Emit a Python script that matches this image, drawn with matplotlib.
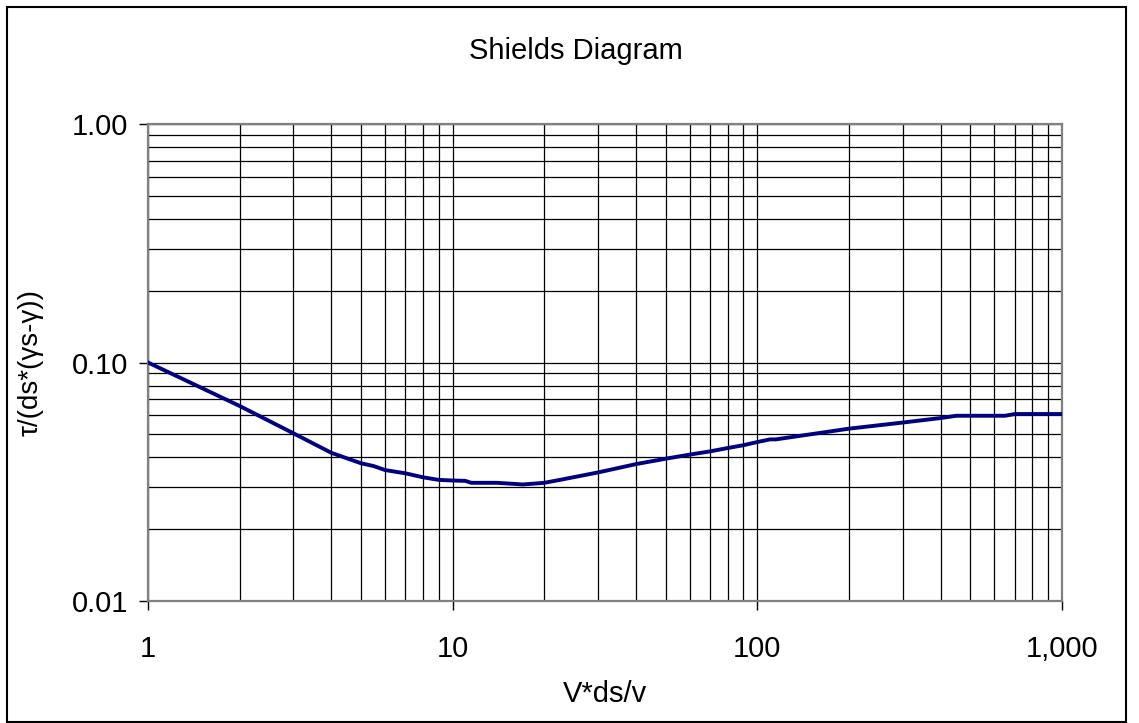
import matplotlib
matplotlib.use("Agg")
import matplotlib.pyplot as plt
from matplotlib.patches import Rectangle
from matplotlib.ticker import FixedLocator, FuncFormatter, LogLocator, NullFormatter

plt.rcParams["font.family"] = ["Liberation Sans", "DejaVu Sans"]

# ── data ──────────────────────────────────────────────────────────────────
reynolds = [1, 2, 3, 4, 5, 5.5, 6, 7, 8, 9, 10, 11, 11.5, 14, 17, 20, 22.5,
            30, 40, 50, 60, 70, 80, 90, 100, 110, 115, 200, 300, 400, 450,
            650, 700, 1000]
shields = [0.100, 0.0657, 0.0505, 0.0418, 0.0378, 0.0368, 0.0354, 0.0343,
           0.0330, 0.0322, 0.0320, 0.0319, 0.0313, 0.0313, 0.0308, 0.0313,
           0.0322, 0.0346, 0.0375, 0.0395, 0.0411, 0.0424, 0.0438, 0.0450,
           0.0464, 0.0476, 0.0476, 0.0528, 0.0560, 0.0585, 0.0598, 0.0598,
           0.0608, 0.0608]
x_major = [1, 10, 100, 1000]
y_major = [0.01, 0.1, 1.0]

# ── figure ────────────────────────────────────────────────────────────────
W, H = 1139, 723
fig = plt.figure(figsize=(W / 100, H / 100), dpi=100)
ax = fig.add_axes([148 / W, 1 - 601 / H, (1062 - 148) / W, (601 - 124) / H])

ax.plot(reynolds, shields, color="#000080", linewidth=2.8, zorder=5,
        solid_joinstyle="round")

ax.set_xscale("log")
ax.set_yscale("log")
ax.set_xlim(1, 1000)
ax.set_ylim(0.01, 1.0)

ax.xaxis.set_major_locator(FixedLocator(x_major))
ax.yaxis.set_major_locator(FixedLocator(y_major))
ax.xaxis.set_minor_locator(LogLocator(base=10, subs=range(2, 10)))
ax.yaxis.set_minor_locator(LogLocator(base=10, subs=range(2, 10)))
ax.xaxis.set_minor_formatter(NullFormatter())
ax.yaxis.set_minor_formatter(NullFormatter())
ax.xaxis.set_major_formatter(FuncFormatter(lambda v, p: f"{v:,.0f}"))
ax.yaxis.set_major_formatter(FuncFormatter(lambda v, p: f"{v:.2f}"))

ax.grid(True, which="both", color="black", linewidth=0.9)
ax.set_axisbelow(True)
ax.tick_params(which="major", direction="out", length=6.5, width=1,
               color="black", labelsize=21, pad=8)
ax.tick_params(which="minor", length=0)
ax.tick_params(axis="x", pad=18)

for sp in ax.spines.values():
    sp.set_color("#808080")
    sp.set_linewidth(1.6)

ax.set_xlabel("V*ds/v", fontsize=21, labelpad=12)
ax.set_ylabel("τ/(ds*(γs-γ))", fontsize=20, labelpad=20)
fig.text(576 / W, 1 - 51 / H, "Shields Diagram", fontsize=21,
         ha="center", va="center")

# outer chart frame
fig.patches.append(Rectangle((7 / W, 1 / H), (1126 - 7) / W, (716 - 1) / H,
                             transform=fig.transFigure, fill=False,
                             edgecolor="black", linewidth=1.5))

fig.savefig("out.png", dpi=100)
